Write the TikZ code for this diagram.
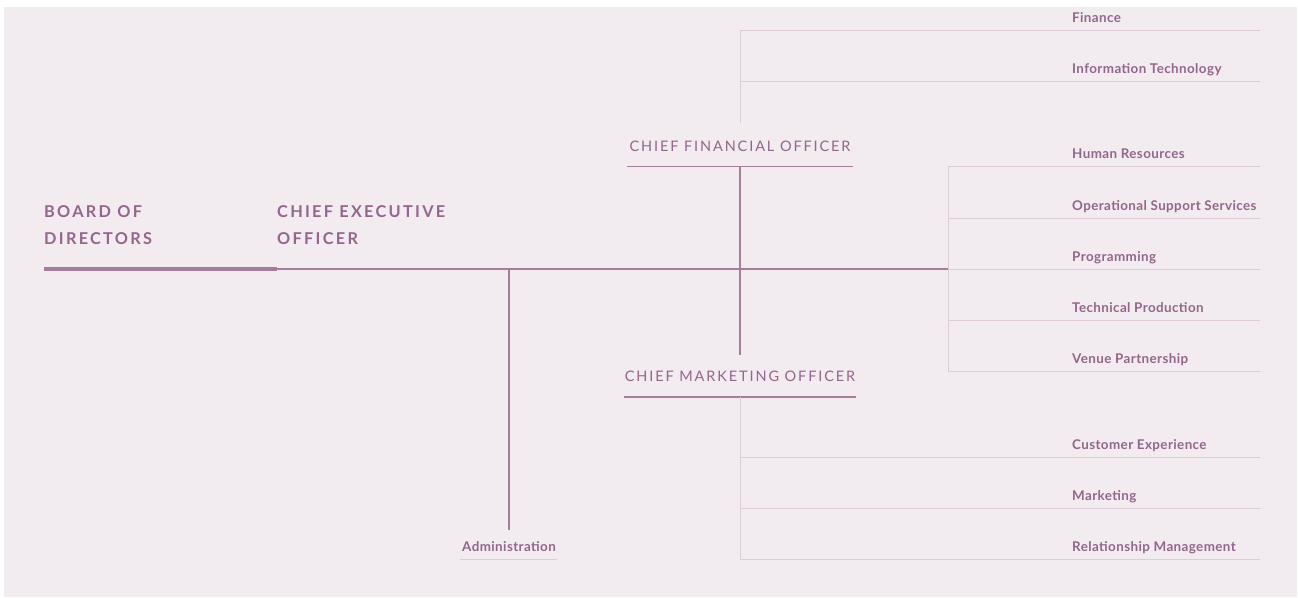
\documentclass[tikz,border=0pt]{standalone}
\usepackage{fontspec}
\setmainfont{Poppins}
\newfontfamily\headfont{Lato}
\usetikzlibrary{positioning}

\definecolor{plum}{HTML}{93668B}
\definecolor{plumline}{HTML}{A57C9A}
\definecolor{lilac}{HTML}{DDCCD8}
\definecolor{paper}{HTML}{F2EBF0}

\tikzset{
  head/.style={font=\headfont\bfseries\fontsize{16.3}{27}\selectfont\addfontfeature{LetterSpace=14},
    text=plum, inner sep=0pt, align=left, anchor=base west},
  officer/.style={font=\headfont\fontsize{14.5}{18}\selectfont\addfontfeature{LetterSpace=13},
    text=plum, inner sep=0pt, anchor=base},
  dept/.style={font=\headfont\bfseries\fontsize{13.4}{15}\selectfont\addfontfeature{LetterSpace=3},
    text=plum, inner sep=0pt, anchor=base west},
  boardline/.style={draw=plumline, line width=4.3pt},
  link/.style={draw=plumline, line width=1.6pt},
  spine/.style={draw=lilac, line width=0.9pt},
}

\begin{document}
\begin{tikzpicture}[x=1pt, y=-1pt]
  \fill[paper] (4,7) rectangle (1297,597);
  \useasboundingbox (0,0) rectangle (1298,597);

  \node[head] (board) at (44,244) {BOARD OF\\DIRECTORS};
  \node[head] (ceo) at (277,244) {CHIEF EXECUTIVE\\OFFICER};
  \node[officer] (cfo) at (740,151) {CHIEF FINANCIAL OFFICER};
  \node[officer] (cmo) at (740,381) {CHIEF MARKETING OFFICER};
  \node[dept, anchor=base] (admin) at (509,551) {Administration};

  \coordinate (b0) at (44,269);
  \coordinate (b1) at (277,269);
  \coordinate (adm) at (509,269);
  \coordinate (adm-end) at (509,530);
  \coordinate (mid) at (740,269);
  \coordinate (hub) at (948,269);
  \coordinate (cfo-l) at (627,166.5);
  \coordinate (cfo-c) at (740,166.5);
  \coordinate (cfo-r) at (853,166.5);
  \coordinate (cmo-l) at (624,397);
  \coordinate (cmo-c) at (740,397);
  \coordinate (cmo-r) at (856,397);
  \coordinate (cmo-top) at (740,355);
  \coordinate (adm-l) at (460,559);
  \coordinate (adm-r) at (557,559);

  % main reporting line
  \draw[boardline] (b0) -- (b1);
  \draw[link] (b1) -- (hub);
  \draw[link] (adm) -- (adm-end);
  \draw[link] (cfo-l) -- (cfo-r);
  \draw[link] (cmo-l) -- (cmo-r);
  \draw[link] (cfo-c) -- (cmo-top);
  \draw[spine] (adm-l) -- (adm-r);

  % finance side
  \coordinate (fin-top) at (740,30);
  \coordinate (fin-bot) at (740,123);
  \draw[spine] (fin-top) -- (fin-bot);
  \foreach \name/\label/\y in {fin/Finance/30, it/Information Technology/81} {
    \node[dept] (\name) at (1072,\y-8) {\label};
    \coordinate (\name-l) at (740,\y);
    \coordinate (\name-r) at (1260,\y);
    \draw[spine] (\name-l) -- (\name-r);
  }

  % operations side
  \coordinate (ops-top) at (948,166);
  \coordinate (ops-bot) at (948,371);
  \draw[spine] (ops-top) -- (ops-bot);
  \foreach \name/\label/\y in {hr/Human Resources/166, oss/Operational Support Services/218,
      prog/Programming/269, tech/Technical Production/320, venue/Venue Partnership/371} {
    \node[dept] (\name) at (1072,\y-8) {\label};
    \coordinate (\name-l) at (948,\y);
    \coordinate (\name-r) at (1260,\y);
    \draw[spine] (\name-l) -- (\name-r);
  }

  % marketing side
  \coordinate (mkt-bot) at (740,559);
  \draw[spine] (cmo-c) -- (mkt-bot);
  \foreach \name/\label/\y in {cx/Customer Experience/457, mkt/Marketing/508,
      rel/Relationship Management/559} {
    \node[dept] (\name) at (1072,\y-8) {\label};
    \coordinate (\name-l) at (740,\y);
    \coordinate (\name-r) at (1260,\y);
    \draw[spine] (\name-l) -- (\name-r);
  }
\end{tikzpicture}
\end{document}
